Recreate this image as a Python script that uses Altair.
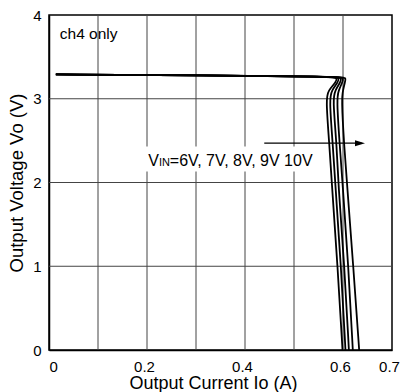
import altair as alt
import pandas as pd

# ---- data ----
series = ["6V", "7V", "8V", "9V", "10V"]
y_levels = [3.29, 3.28, 3.265, 3.245, 3.2, 3.1, 3.0, 2.47, 2.0, 1.0, 0.0]
x_6v = [0.014, 0.30, 0.582, 0.588, 0.586, 0.570, 0.565, 0.572, 0.577, 0.589, 0.599]
x_7v = [0.014, 0.30, 0.586, 0.592, 0.590, 0.577, 0.572, 0.579, 0.584, 0.596, 0.605]
x_8v = [0.014, 0.30, 0.591, 0.597, 0.595, 0.584, 0.579, 0.587, 0.590, 0.603, 0.612]
x_9v = [0.014, 0.30, 0.595, 0.601, 0.599, 0.591, 0.587, 0.593, 0.599, 0.611, 0.620]
x_10v = [0.014, 0.30, 0.600, 0.606, 0.604, 0.600, 0.597, 0.602, 0.608, 0.621, 0.633]
x_series = [x_6v, x_7v, x_8v, x_9v, x_10v]

x_tick_values = [0, 0.2, 0.4, 0.6, 0.7]
y_tick_values = [0, 1, 2, 3, 4]
x_grid = [0.1, 0.2, 0.3, 0.4, 0.5, 0.6]
y_grid = [1, 2, 3]

rows = []
for name, xs_ in zip(series, x_series):
    for i, (xv, yv) in enumerate(zip(xs_, y_levels)):
        rows.append({"vin": name, "idx": i, "x": xv, "y": yv})
curves = pd.DataFrame(rows)

FONT = "Liberation Sans"
xs = alt.Scale(domain=[0, 0.7], nice=False, zero=False)
ys = alt.Scale(domain=[0, 4], nice=False, zero=False)

x_axis = alt.Axis(
    values=x_tick_values, format="~g", grid=False, ticks=False,
    labelFont=FONT, labelFontSize=15, labelColor="black", labelPadding=9,
    labelAlign={"condition": {"test": "datum.value == 0", "value": "left"}, "value": "center"},
    labelOffset={"condition": {"test": "datum.value == 0", "value": 0}, "value": -3},
    domainColor="black", domainWidth=1.5,
    title="Output Current Io (A)", titleFont=FONT, titleFontSize=18,
    titleFontWeight="normal", titleColor="black",
    titleX=164, titleY=38.5, titleBaseline="alphabetic", titleAlign="center",
)
y_axis = alt.Axis(
    values=y_tick_values, format="~g", grid=False, ticks=False,
    labelFont=FONT, labelFontSize=15, labelColor="black", labelPadding=8,
    domainColor="black", domainWidth=1.5,
    title="Output Voltage Vo (V)", titleFont=FONT, titleFontSize=18.5,
    titleFontWeight="normal", titleColor="black", titleAngle=270,
    titleX=-26.5, titleY=167.5, titleBaseline="alphabetic", titleAlign="center",
)


def X(v):
    return alt.datum(v, scale=xs, axis=x_axis, type="quantitative")


def Y(v):
    return alt.datum(v, scale=ys, axis=y_axis, type="quantitative")


vgrid = alt.Chart(pd.DataFrame({"x": x_grid})).mark_rule(color="#444", strokeWidth=1).encode(
    x=alt.X("x:Q", scale=xs, axis=x_axis)
)
hgrid = alt.Chart(pd.DataFrame({"y": y_grid})).mark_rule(color="#444", strokeWidth=1).encode(
    y=alt.Y("y:Q", scale=ys, axis=y_axis)
)

one = pd.DataFrame({"k": [0]})
label_box = alt.Chart(one).mark_rect(color="white", opacity=1).encode(
    x=X(0.196), x2=alt.datum(0.547),
    y=Y(2.43), y2=alt.datum(2.13),
)

lines = alt.Chart(curves).mark_line(color="black", strokeWidth=1.8, interpolate="basis").encode(
    x=alt.X("x:Q", scale=xs, axis=x_axis),
    y=alt.Y("y:Q", scale=ys, axis=y_axis),
    detail="vin:N",
    order="idx:Q",
)

arrow_line = alt.Chart(one).mark_rule(color="black", strokeWidth=1.3).encode(
    x=X(0.4393), x2=alt.datum(0.638), y=Y(2.469),
)
arrow_head = alt.Chart(one).mark_point(
    shape="M-2,-0.6L0,0L-2,0.6Z", size=100, filled=True, color="black", opacity=1
).encode(x=X(0.6449), y=Y(2.469))

txt_ch4 = alt.Chart(one).mark_text(
    text="ch4 only", font=FONT, fontSize=15.5, align="left", baseline="alphabetic", color="black"
).encode(x=X(0.022), y=Y(3.71))

txt_v = alt.Chart(one).mark_text(
    text="V", font=FONT, fontSize=16, align="left", baseline="alphabetic", color="black"
).encode(x=X(0.2027), y=Y(2.197))
txt_in = alt.Chart(one).mark_text(
    text="IN", font=FONT, fontSize=11, align="left", baseline="alphabetic", color="black"
).encode(x=X(0.2245), y=Y(2.197))
txt_rest = alt.Chart(one).mark_text(
    text="=6V, 7V, 8V, 9V 10V", font=FONT, fontSize=16, align="left", baseline="alphabetic", color="black"
).encode(x=X(0.2465), y=Y(2.197))

chart = alt.layer(
    vgrid, hgrid, label_box, lines, arrow_line, arrow_head, txt_ch4, txt_v, txt_in, txt_rest
).properties(
    width=343, height=335,
    autosize=alt.AutoSizeParams(type="none"),
    padding={"left": 49, "top": 15, "right": 8, "bottom": 42},
    background="white",
).configure_view(stroke="black", strokeWidth=1.5)

chart.save("out.html", embed_options={"renderer": "svg", "actions": False})
